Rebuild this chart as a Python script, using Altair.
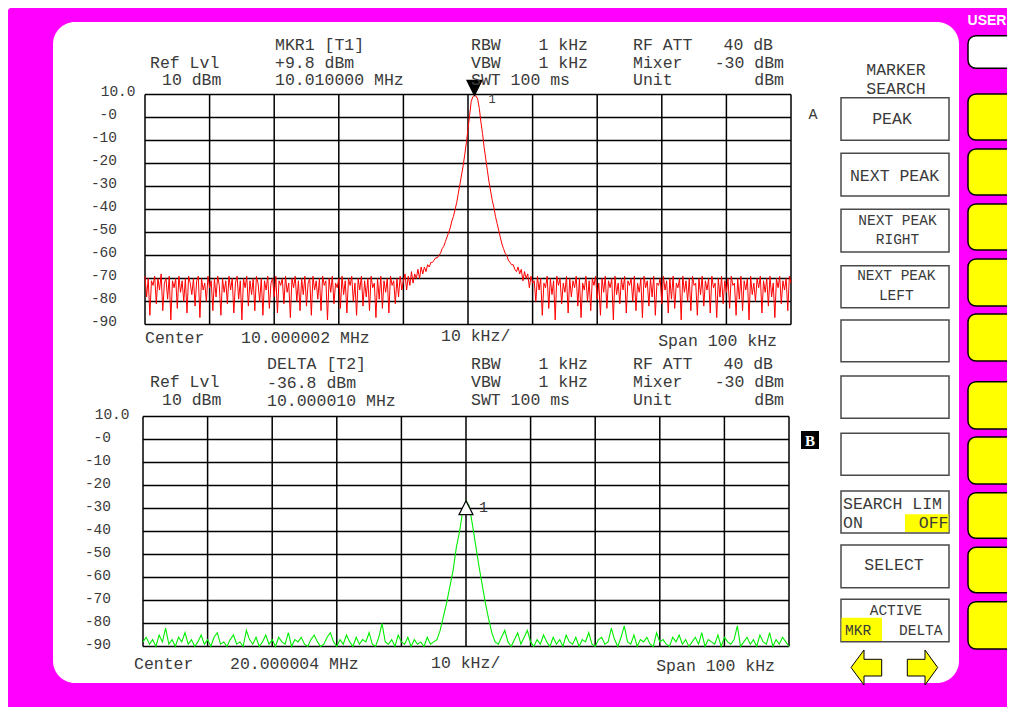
import altair as alt
import pandas as pd

# ---------------------------------------------------------------- data
FREQ_START = -50.0     # kHz from centre
STEP_A = 0.25          # kHz per sweep point, trace A
STEP_B = 0.5           # kHz per sweep point, trace B

TRACE_A_LEFT = [-69, -78, -70, -86, -71, -73, -69, -81, -70, -75, -68, -84, -72, -70, -79, -69, -88, -71, -74, -70,
                -83, -69, -76, -71, -80, -70, -85, -69, -72, -77, -70, -82, -71, -69, -87, -70, -75, -72, -80, -69,
                -74, -71, -84, -70, -78, -69, -73, -86, -70, -76, -71, -81, -69, -75, -70, -85, -72, -69, -79, -71,
                -88, -70, -74, -69, -82, -71, -77, -70, -84, -69, -72, -80, -70, -86, -71, -75, -69, -83, -72, -70,
                -78, -69, -85, -71, -73, -70, -81, -69, -76, -72, -87, -70, -74, -69, -80, -71, -84, -70, -77, -69,
                -82, -72, -70, -86, -69, -75, -71, -79, -70, -84, -69, -73, -71, -88, -70, -76, -69, -81, -72, -74,
                -70, -83, -69, -77, -71, -85, -70, -73, -69, -80, -72, -86, -70, -75, -69, -82, -71, -78, -70, -84,
                -69, -74, -72, -87, -70, -79, -69, -83, -71, -76, -70, -85, -69, -73, -71, -81, -70, -78, -69, -75]
TRACE_A_PEAK = [-71, -68, -75, -69, -73, -67, -72, -68, -70, -66,
                -70, -65, -68, -65, -67, -64, -65, -63, -63, -62,
                -61, -61, -60, -59, -57, -56, -54, -52, -50, -48,
                -45, -43, -40, -37, -33, -29, -25, -21, -16, -11,
                -5, 1, 7, 9, 9.6, 9.3, 8, 4, -2, -7,
                -13, -18, -23, -28, -32, -36, -39, -43, -46, -49,
                -52, -55, -57, -59, -60, -62, -63, -64, -64, -66,
                -67, -65, -68, -66, -71, -67, -70, -68, -74, -69,
                -72]
TRACE_A_RIGHT = [-71, -80, -69, -75, -70, -86, -72, -74, -69, -83, -70, -77, -71, -88, -69, -73, -70, -81, -72, -76,
                 -69, -85, -70, -78, -71, -74, -69, -82, -70, -87, -72, -75, -69, -80, -71, -84, -70, -73, -69, -79,
                 -72, -86, -70, -76, -69, -83, -71, -74, -70, -88, -69, -77, -72, -81, -70, -75, -69, -85, -71, -73,
                 -70, -80, -69, -84, -72, -76, -70, -87, -69, -74, -71, -82, -70, -78, -69, -86, -72, -73, -70, -81,
                 -69, -75, -71, -85, -70, -79, -69, -83, -72, -74, -70, -88, -69, -76, -71, -80, -70, -84, -69, -73,
                 -72, -86, -70, -77, -69, -82, -71, -75, -70, -85, -69, -74, -72, -87, -70, -78, -69, -81, -71, -76,
                 -70, -83, -69, -73, -72, -86, -70, -79, -69, -84, -71, -75, -70, -88, -69, -77, -72, -80, -70, -74,
                 -69, -85, -71, -76, -70, -82, -69, -78, -72, -87, -70, -74, -69, -81, -71, -75, -70, -84, -69, -72]

TRACE_B_LEFT = [-88, -86, -89, -87, -90, -85, -88, -82, -89, -87, -90, -86, -88, -84, -89, -87, -90, -88, -85, -89,
                -87, -90, -86, -84, -89, -88, -90, -87, -85, -89, -88, -90, -83, -87, -89, -86, -90, -88, -85, -89,
                -87, -90, -86, -88, -89, -84, -90, -87, -88, -86, -89, -90, -87, -85, -88, -90, -89, -86, -84, -88,
                -90, -87, -89, -85, -88, -90, -86, -89, -87, -88, -84, -89, -90, -86, -80, -88, -89, -87, -90, -85,
                -88, -89, -86, -90, -87, -89, -88, -90, -86, -89, -88]
TRACE_B_PEAK = [-87, -83, -77, -71, -64, -57, -47, -40, -31, -26.6, -29, -37, -46, -55, -63, -71, -78, -84, -88]
TRACE_B_RIGHT = [-89, -86, -83, -88, -90, -87, -84, -89, -86, -83, -88, -90, -87, -89, -85, -88, -90, -86, -89, -87,
                 -90, -85, -88, -89, -86, -90, -87, -88, -84, -89, -90, -87, -86, -89, -88, -82, -87, -90, -86, -81,
                 -88, -89, -85, -90, -87, -88, -86, -89, -90, -84, -88, -87, -89, -90, -86, -88, -85, -89, -87, -90,
                 -88, -86, -89, -84, -90, -87, -88, -89, -85, -90, -86, -88, -89, -87, -81, -90, -88, -86, -89, -87,
                 -90, -85, -88, -89, -84, -90, -87, -89, -86, -88, -90]

MARKER_A = (1.0, 9.6)      # kHz, dBm
MARKER_B = (0.0, -26.6)

DB_TICKS = [10, 0, -10, -20, -30, -40, -50, -60, -70, -80, -90]
DB_LABELS = ["10.0", "-0", "-10", "-20", "-30", "-40", "-50", "-60", "-70", "-80", "-90"]
FREQ_GRID = [-50, -40, -30, -20, -10, 0, 10, 20, 30, 40, 50]

HEADER_A_LEFT = ["Ref Lvl", "10 dBm", "MKR1 [T1]", "+9.8 dBm", "10.010000 MHz",
                 "RBW", "VBW", "SWT 100 ms", "RF ATT", "Mixer", "Unit",
                 "Center", "10.000002 MHz", "10 kHz/"]
HEADER_A_RIGHT = ["1 kHz", "1 kHz", "40 dB", "-30 dBm", "dBm", "Span 100 kHz"]
HEADER_B_LEFT = ["DELTA [T2]", "Ref Lvl", "-36.8 dBm", "10 dBm", "10.000010 MHz",
                 "RBW", "VBW", "SWT 100 ms", "RF ATT", "Mixer", "Unit",
                 "Center", "20.000004 MHz", "10 kHz/"]
HEADER_B_RIGHT = ["1 kHz", "1 kHz", "40 dB", "-30 dBm", "dBm", "Span 100 kHz"]

SOFT_REGULAR_C = ["MARKER", "SEARCH", "PEAK", "NEXT PEAK", "SELECT"]
SOFT_NARROW_C = ["NEXT PEAK", "RIGHT", "NEXT PEAK", "LEFT", "ACTIVE"]
SOFT_NARROW_L = ["MKR", "DELTA"]
SOFT_REGULAR_L = ["SEARCH LIM", "ON"]
SOFT_REGULAR_R = ["OFF"]

# ---------------------------------------------------------------- layout (page pixels)
MAGENTA = "#FF00FF"
YELLOW = "#FFFF00"
TXT = "#3a3a3a"
MONO = "Liberation Mono"
FS = 16.5

FRAME = (6, 6, 1013, 713)
PANEL = (53, 22, 959, 683)
PLOT_A = (145, 94.5, 791, 324.5)   # left, top, right, bottom
PLOT_B = (143, 416.5, 789, 646.5)

HEADER_A_LEFT_POS = [(150, 63), (162, 80), (275, 45), (275, 63), (275, 80),
                     (471, 45), (471, 63), (471, 80), (633, 45), (633, 63), (633, 80),
                     (145, 338), (241, 338), (441, 336)]
HEADER_A_RIGHT_POS = [(588, 45), (588, 63), (773, 45), (784, 63), (784, 80), (777, 341)]
HEADER_B_LEFT_POS = [(267, 364), (150, 382), (267, 383), (162, 400), (267, 401),
                     (471, 364), (471, 382), (471, 400), (633, 364), (633, 382), (633, 400),
                     (134, 664), (230, 664), (431, 663)]
HEADER_B_RIGHT_POS = [(588, 364), (588, 382), (773, 364), (784, 382), (784, 400), (775, 666)]
TICK_RIGHT_A, TICK_DY_A = 117, -3
TICK_RIGHT_B, TICK_DY_B = 111, -2
TOP_TICK_SHIFT = 18.5

SOFT_BOX_X = (841, 949)
SOFT_BOX_Y = [(97.7, 140.3), (153.3, 196), (209.3, 252), (265.7, 307.7), (320, 361.7),
              (376, 418.3), (433.3, 475.3), (491, 533), (545, 587.7), (599.3, 641.7)]
HIGHLIGHTS = [(905, 514.3, 948.5, 532), (841.5, 617.7, 882, 641)]
SOFT_REGULAR_C_POS = [(896, 70), (896, 89), (892, 119), (894.5, 176), (894, 565)]
SOFT_NARROW_C_POS = [(897.5, 221), (897.5, 240), (896.3, 276), (896.3, 295.5), (895.8, 611)]
SOFT_NARROW_L_POS = [(845, 630.5), (899, 630.5)]
SOFT_REGULAR_L_POS = [(843, 504), (843, 523)]
SOFT_REGULAR_R_POS = [(948.5, 523)]

SIDE_BTN_X = (968, 1014)
USER_BTN_Y = (35.7, 68.3)
SIDE_BTN_Y = [(94, 140), (149, 195), (204, 250), (259, 306), (314, 361),
              (381.7, 429), (437, 484), (492.7, 538.3), (547.3, 592.7), (601.7, 649)]

ARROW_L_POS = (866, 667.5)
ARROW_R_POS = (922, 667.5)
ARROW_L_PATH = "M-15,0L-2,-17.5L-2,-8.2L15.7,-8.2L15.7,8.5L-2,8.5L-2,17.5Z"
ARROW_R_PATH = "M15.7,0L3,-17.5L3,-8.2L-14.7,-8.2L-14.7,8.5L3,8.5L3,17.5Z"
TRI_DOWN_PATH = "M0,0L-7.5,-15L7.5,-15Z"
TRI_UP_PATH = "M0,0L-7,14L7,14Z"

W, H = 999, 699
OX, OY = 8, 8
PAGE_X = alt.Scale(domain=[OX, OX + W], range=[0, W], nice=False, zero=False)
PAGE_Y = alt.Scale(domain=[OY, OY + H], range=[0, H], nice=False, zero=False)


def plot_scales(box):
    l, t, r, b = box
    sx = alt.Scale(domain=[FREQ_GRID[0], FREQ_GRID[-1]], range=[l - OX, r - OX], nice=False, zero=False)
    sy = alt.Scale(domain=[DB_TICKS[-1], DB_TICKS[0]], range=[b - OY, t - OY], nice=False, zero=False)
    return sx, sy


SXA, SYA = plot_scales(PLOT_A)
SXB, SYB = plot_scales(PLOT_B)


def rect_layer(boxes, **props):
    df = pd.DataFrame(boxes, columns=["x0", "y0", "x1", "y1"])
    return alt.Chart(df).mark_rect(**props).encode(
        x=alt.X("x0:Q", scale=PAGE_X, axis=None), x2="x1:Q",
        y=alt.Y("y0:Q", scale=PAGE_Y, axis=None), y2="y1:Q")


def text_layer(texts, pos, **props):
    df = pd.DataFrame({"text": texts, "x": [p[0] for p in pos], "y": [p[1] for p in pos]})
    base = dict(font=MONO, fontSize=FS, color=TXT, align="left", baseline="middle")
    base.update(props)
    return alt.Chart(df).mark_text(**base).encode(
        x=alt.X("x:Q", scale=PAGE_X, axis=None),
        y=alt.Y("y:Q", scale=PAGE_Y, axis=None),
        text="text:N")


def grid_layers(sx, sy):
    vdf = pd.DataFrame({"f": FREQ_GRID, "top": DB_TICKS[0], "bot": DB_TICKS[-1]})
    hdf = pd.DataFrame({"db": DB_TICKS, "lo": FREQ_GRID[0], "hi": FREQ_GRID[-1]})
    v = alt.Chart(vdf).mark_rule(color="black", strokeWidth=1.5).encode(
        x=alt.X("f:Q", scale=sx, axis=None),
        y=alt.Y("top:Q", scale=sy, axis=None), y2="bot:Q")
    h = alt.Chart(hdf).mark_rule(color="black", strokeWidth=1.5).encode(
        y=alt.Y("db:Q", scale=sy, axis=None),
        x=alt.X("lo:Q", scale=sx, axis=None), x2="hi:Q")
    return [v, h]


def trace_layer(values, step, sx, sy, color, width):
    freqs = [FREQ_START + step * i for i in range(len(values))]
    df = pd.DataFrame({"f": freqs, "db": values})
    return alt.Chart(df).mark_line(color=color, strokeWidth=width).encode(
        x=alt.X("f:Q", scale=sx, axis=None),
        y=alt.Y("db:Q", scale=sy, axis=None))


def tick_label_layer(sy, right, dy):
    xs = [right + (TOP_TICK_SHIFT if i == 0 else 0) for i in range(len(DB_TICKS))]
    df = pd.DataFrame({"db": DB_TICKS, "label": DB_LABELS, "x": xs})
    return alt.Chart(df).mark_text(font=MONO, fontSize=14.5, color=TXT, align="right",
                                   baseline="middle", dy=dy).encode(
        x=alt.X("x:Q", scale=PAGE_X, axis=None),
        y=alt.Y("db:Q", scale=sy, axis=None),
        text="label:N")


def marker_layers(marker, sx, sy, path, fill, lbl_dx, lbl_dy, lbl_size):
    df = pd.DataFrame({"f": [marker[0]], "db": [marker[1]], "t": ["1"]})
    enc = dict(x=alt.X("f:Q", scale=sx, axis=None), y=alt.Y("db:Q", scale=sy, axis=None))
    tri = alt.Chart(df).mark_point(shape=path, size=4, filled=True, fill=fill, stroke="black",
                                   strokeWidth=1.2, opacity=1).encode(**enc)
    lbl = alt.Chart(df).mark_text(font=MONO, fontSize=lbl_size, color=TXT, align="left",
                                  baseline="middle", dx=lbl_dx, dy=lbl_dy).encode(text="t:N", **enc)
    return [tri, lbl]


trace_a = TRACE_A_LEFT + TRACE_A_PEAK + TRACE_A_RIGHT
trace_b = TRACE_B_LEFT + TRACE_B_PEAK + TRACE_B_RIGHT
assert len(trace_a) == 401 and len(trace_b) == 201, (len(trace_a), len(trace_b))

layers = []
layers.append(rect_layer([FRAME], fill=MAGENTA, cornerRadius=10))
layers.append(rect_layer([PANEL], fill="white", cornerRadius=22))

# plot A
layers += grid_layers(SXA, SYA)
layers.append(trace_layer(trace_a, STEP_A, SXA, SYA, "#FF0000", 1.0))
layers += marker_layers(MARKER_A, SXA, SYA, TRI_DOWN_PATH, "black", 14, 4, 12)
layers.append(tick_label_layer(SYA, TICK_RIGHT_A, TICK_DY_A))
layers.append(text_layer(HEADER_A_LEFT, HEADER_A_LEFT_POS))
layers.append(text_layer(HEADER_A_RIGHT, HEADER_A_RIGHT_POS, align="right"))

# plot B
layers += grid_layers(SXB, SYB)
layers.append(trace_layer(trace_b, STEP_B, SXB, SYB, "#00EE00", 1.1))
layers += marker_layers(MARKER_B, SXB, SYB, TRI_UP_PATH, "white", 13, 6.5, 15)
layers.append(tick_label_layer(SYB, TICK_RIGHT_B, TICK_DY_B))
layers.append(text_layer(HEADER_B_LEFT, HEADER_B_LEFT_POS))
layers.append(text_layer(HEADER_B_RIGHT, HEADER_B_RIGHT_POS, align="right"))

# trace labels A / B
layers.append(text_layer(["A"], [(813, 114)], fontSize=15, align="center"))
layers.append(rect_layer([(801, 431, 819, 449)], fill="black"))
layers.append(text_layer(["B"], [(810, 440.5)], font="Liberation Serif", fontSize=15,
                         fontWeight="bold", color="white", align="center"))

# softkey boxes
layers.append(rect_layer([(SOFT_BOX_X[0], y0, SOFT_BOX_X[1], y1) for y0, y1 in SOFT_BOX_Y],
                         fill="white", stroke="#4a4a4a", strokeWidth=1.5))
layers.append(rect_layer(HIGHLIGHTS, fill=YELLOW))
layers.append(text_layer(SOFT_REGULAR_C, SOFT_REGULAR_C_POS, align="center"))
layers.append(text_layer(SOFT_NARROW_C, SOFT_NARROW_C_POS, align="center", fontSize=14.5))
layers.append(text_layer(SOFT_NARROW_L, SOFT_NARROW_L_POS, fontSize=14.5))
layers.append(text_layer(SOFT_REGULAR_L, SOFT_REGULAR_L_POS))
layers.append(text_layer(SOFT_REGULAR_R, SOFT_REGULAR_R_POS, align="right"))

# side hardware buttons
layers.append(rect_layer([(SIDE_BTN_X[0], USER_BTN_Y[0], SIDE_BTN_X[1], USER_BTN_Y[1])],
                         fill="white", stroke="black", strokeWidth=1.5, cornerRadius=8))
layers.append(rect_layer([(SIDE_BTN_X[0], y0, SIDE_BTN_X[1], y1) for y0, y1 in SIDE_BTN_Y],
                         fill=YELLOW, stroke="black", strokeWidth=1.5, cornerRadius=8))
layers.append(text_layer(["USER"], [(987, 20.5)], font="Liberation Sans", fontSize=14,
                         fontWeight="bold", color="white", align="center"))

# arrows
for pos, path in [(ARROW_L_POS, ARROW_L_PATH), (ARROW_R_POS, ARROW_R_PATH)]:
    df = pd.DataFrame({"x": [pos[0]], "y": [pos[1]]})
    layers.append(alt.Chart(df).mark_point(shape=path, size=4, filled=True, fill=YELLOW,
                                           stroke="black", strokeWidth=1, opacity=1).encode(
        x=alt.X("x:Q", scale=PAGE_X, axis=None), y=alt.Y("y:Q", scale=PAGE_Y, axis=None)))

chart = alt.layer(*layers).resolve_scale(x="independent", y="independent").properties(
    width=W, height=H, autosize=alt.AutoSizeParams(type="none"), padding=0, background="white"
).configure_view(strokeWidth=0)

chart.save("out.html", embed_options={"renderer": "svg", "actions": False})
